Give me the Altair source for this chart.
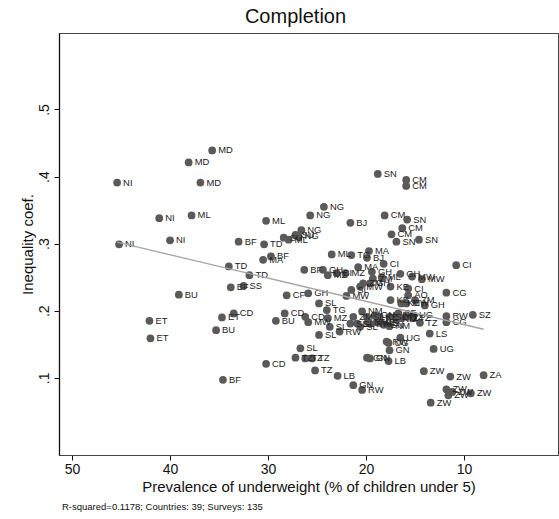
import altair as alt
import pandas as pd

codes = ["MD","MD","NI","MD","NI","ML","NI","NI","TD","BF",
         "BU","ET","ET","ET","CD","BU","BF","TD","BF","SS",
         "ML","TD","MA","BF","NG","SU","ML","SU","NG","NG",
         "NG","BJ","SN","CM","CM","CM","SN","CM","CM","SN",
         "SN","ML","TG","MA","BJ","CI","BF","GH","MZ","CI",
         "MZ","MA","GH","ZM","ML","GH","MW","MW","CI","GH",
         "ZM","MW","KE","CI","SL","MW","CF","GH","AO","CG",
         "KE","KE","MW","ZM","GH","SL","TG","MZ","SL","RW",
         "SL","ZM","NM","NM","SL","KE","GN","SL","NM","KE",
         "TZ","NM","BF","TZ","TZ","UG","TZ","RW","CG","SZ",
         "NM","LS","UG","RW","UG","GN","UG","LB","ZW","ZW",
         "ZA","ZW","ZW","ZW","ZW","ZW","CD","BU","CD","MW",
         "SL","SL","TZ","TZ","TZ","CD","TZ","LB","GN","RW",
         "GN","GN","SL","GN","KE","SL","RW"]
prevalence = [35.7,38.1,45.4,36.9,41.1,37.8,45.2,40.0,34.0,33.0,
              39.1,42.1,42.0,34.7,33.5,35.3,34.6,31.9,33.8,32.5,
              30.2,30.4,30.5,29.7,26.6,28.4,27.9,27.2,26.9,24.3,
              25.7,21.6,18.8,15.9,15.9,18.1,15.8,16.3,17.4,16.9,
              14.6,23.5,21.5,19.7,19.9,18.2,26.3,24.4,23.9,23.0,
              22.1,20.8,19.4,19.3,18.4,16.5,15.3,14.3,10.8,19.6,
              20.3,20.6,17.5,15.7,21.5,22.0,28.1,25.9,15.7,11.8,
              17.5,16.4,15.9,15.0,14.0,24.8,24.0,23.9,23.7,22.7,
              21.6,21.3,20.4,19.8,20.6,18.9,18.2,17.6,16.9,18.6,
              15.9,16.9,16.7,16.4,15.2,15.2,14.5,11.8,11.8,9.1,
              17.6,13.5,16.5,17.9,17.7,17.6,13.1,17.7,14.1,11.4,
              8.0,11.8,11.6,9.3,13.4,11.2,28.3,29.2,26.2,25.9,
              24.8,26.7,27.2,26.2,25.5,30.2,25.2,22.9,21.3,20.4,
              19.9,19.6,19.9,19.1,18.6,20.9,19.6]
inequality = [.439,.421,.391,.391,.338,.342,.299,.305,.266,.303,
              .224,.185,.159,.190,.196,.171,.097,.253,.235,.237,
              .334,.299,.276,.281,.320,.309,.306,.313,.311,.355,
              .342,.331,.404,.395,.386,.342,.336,.323,.314,.303,
              .306,.284,.283,.289,.279,.270,.261,.261,.253,.256,
              .256,.265,.258,.248,.250,.255,.251,.247,.268,.241,
              .241,.236,.236,.233,.231,.222,.223,.226,.223,.227,
              .216,.211,.211,.216,.208,.211,.201,.189,.176,.169,
              .181,.191,.199,.183,.176,.183,.179,.191,.193,.182,
              .191,.187,.196,.189,.189,.193,.182,.192,.183,.194,
              .177,.166,.160,.154,.152,.141,.143,.125,.110,.102,
              .104,.083,.074,.077,.063,.079,.196,.185,.191,.183,
              .164,.144,.130,.129,.129,.121,.111,.103,.089,.082,
              .130,.129,.191,.193,.191,.181,.181]

title_text = "Completion"
x_title = "Prevalence of underweight (% of children under 5)"
y_title = "Inequality coef."
footer_text = "R-squared=0.1178; Countries: 39; Surveys: 135"
x_ticks = [10, 20, 30, 40, 50]
y_ticks = [0.1, 0.2, 0.3, 0.4, 0.5]

n = min(len(codes), len(prevalence), len(inequality))
df = pd.DataFrame({"code": codes[:n], "prev": prevalence[:n], "coef": inequality[:n]})

FONT = "Liberation Sans"
W, H = 499, 422

xs = alt.X("prev:Q",
           scale=alt.Scale(domain=[0.41, 51.33], reverse=True, nice=False, zero=False),
           axis=alt.Axis(values=x_ticks, title=x_title, grid=False, tickSize=5,
                         tickColor="#111", domainColor="#444", labelFontSize=14,
                         labelFont=FONT, labelColor="#111", labelPadding=2,
                         titleFont=FONT, titleFontSize=15, titleFontWeight="normal",
                         titleColor="#111", titlePadding=3))
ys = alt.Y("coef:Q",
           scale=alt.Scale(domain=[-0.015, 0.614], nice=False, zero=False),
           axis=alt.Axis(values=y_ticks, title=y_title, grid=False, tickSize=5,
                         tickColor="#111", domainColor="#111", domainWidth=1.3,
                         labelExpr="'.' + round(datum.value*10)", labelAngle=-90,
                         labelFontSize=14, labelFont=FONT, labelColor="#111",
                         labelPadding=3, titleFont=FONT, titleFontSize=15,
                         titleFontWeight="normal", titleColor="#111", titlePadding=2))

base = alt.Chart(df)
points = base.mark_circle(size=60, color="#5a5a5a", opacity=1).encode(x=xs, y=ys)
labels = base.mark_text(align="left", baseline="middle", dx=6, fontSize=9.4,
                        font=FONT, color="#222").encode(x=xs, y=ys, text="code:N")
fit = base.transform_regression("prev", "coef").mark_line(
    color="#a6a6a6", strokeWidth=1.3).encode(x=xs, y=ys)

footer = alt.Chart(pd.DataFrame({"t": [footer_text]})).mark_text(
    align="left", baseline="middle", fontSize=9.5, font=FONT, color="#111"
).encode(x=alt.value(3), y=alt.value(H + 52), text="t:N")

chart = alt.layer(points, labels, fit, footer).properties(
    width=W, height=H,
    title=alt.TitleParams(title_text, fontSize=20, font=FONT, fontWeight="normal",
                          color="#111", anchor="middle", dx=-13, offset=6),
    autosize=alt.AutoSizeParams(type="none"),
    padding={"left": 59, "top": 33, "right": 1, "bottom": 64},
    background="white",
).configure_view(stroke="#444", strokeWidth=1)

chart.save("out.html", embed_options={"renderer": "svg", "actions": False})
